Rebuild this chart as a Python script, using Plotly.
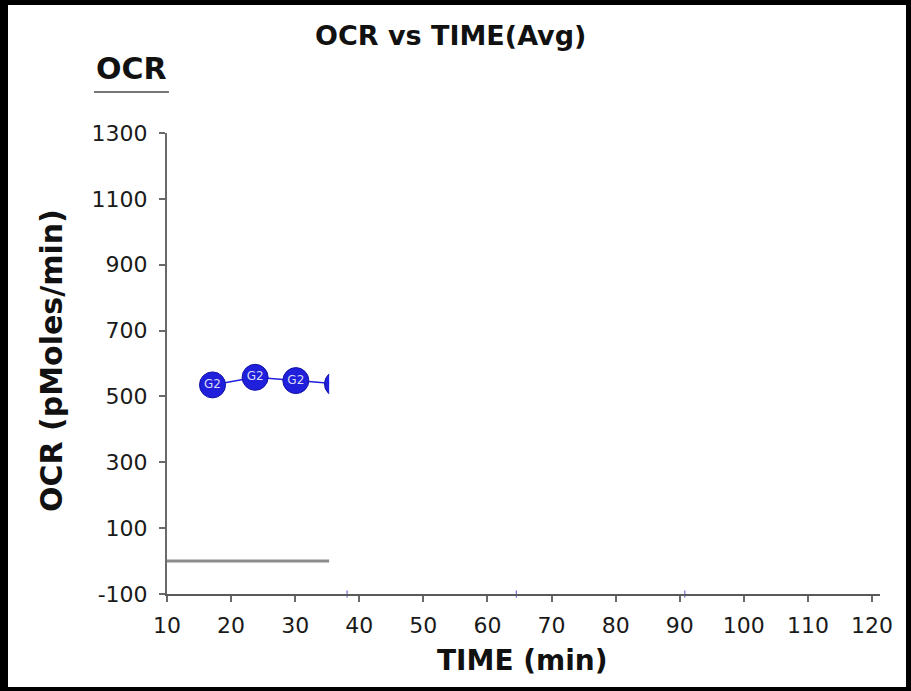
import plotly.graph_objects as go

# ---- data ----
time_min = [17.1, 23.75, 30.1, 36.6]
ocr_avg = [535, 558, 548, 538]
group_labels = ["G2", "G2", "G2", "G2"]
baseline_time = [10, 121]
baseline_ocr = [0, 0]
injection_time = [38.1, 64.5, 90.8]
injection_ocr = [-100, -100, -100]
reveal_time = 35.3          # data shown up to this time

x_ticks = [10, 20, 30, 40, 50, 60, 70, 80, 90, 100, 110, 120]
y_ticks = [-100, 100, 300, 500, 700, 900, 1100, 1300]
y_tick_text = ["-100", "100", "300", "500", "700", "900", "1100", "1300"]
x_range = [10, 121.25]
y_range = [-100, 1300]

W, H = 911, 691
L, R, T, B = 167, 31, 133, 97
pw, ph = W - L - R, H - T - B

def px(xp):
    return (xp - L) / pw

def py(yp):
    return (H - B - yp) / ph

FONT = "DejaVu Sans"
AX = "#6a6a6a"
BLUE = "#1f1fdc"

fig = go.Figure()

# clipped subplot (x2/y2) for revealed data
fig.add_trace(go.Scatter(
    x=baseline_time, y=baseline_ocr, mode="lines",
    line=dict(color="#8c8c8c", width=3),
    xaxis="x2", yaxis="y2", showlegend=False, hoverinfo="skip"))
fig.add_trace(go.Scatter(
    x=time_min, y=ocr_avg, mode="lines+markers+text",
    text=group_labels, textposition="middle center",
    textfont=dict(family=FONT, size=12, color="#dcdcf2"),
    line=dict(color=BLUE, width=1.5),
    marker=dict(size=26, color=BLUE, line=dict(color="#1212a8", width=1)),
    xaxis="x2", yaxis="y2", showlegend=False))

fig.add_trace(go.Scatter(
    x=injection_time, y=injection_ocr, mode="markers",
    marker=dict(symbol="line-ns-open", size=5, color="#5050d0", line=dict(width=1, color="#5050d0")),
    cliponaxis=False, showlegend=False, hoverinfo="skip"))

frac = (reveal_time - x_range[0]) / (x_range[1] - x_range[0])

fig.update_layout(
    width=W, height=H,
    margin=dict(l=L, r=R, t=T, b=B, pad=0),
    paper_bgcolor="black",
    plot_bgcolor="rgba(0,0,0,0)",
    showlegend=False,
    font=dict(family=FONT, color="#1a1a1a"),
    xaxis=dict(
        range=x_range, tickvals=x_ticks, domain=[0, 1],
        showgrid=False, zeroline=False,
        showline=True, linecolor="#5a5a5a", linewidth=2,
        ticks="outside", ticklen=6, tickwidth=2, tickcolor=AX,
        tickfont=dict(family=FONT, size=22, color="#1a1a1a"),
        ticklabelstandoff=5,
    ),
    yaxis=dict(
        range=y_range, tickvals=y_ticks, ticktext=y_tick_text, domain=[0, 1],
        showgrid=False, zeroline=False,
        showline=True, linecolor=AX, linewidth=2,
        ticks="outside", ticklen=6, tickwidth=2, tickcolor=AX,
        tickfont=dict(family=FONT, size=22, color="#1a1a1a"),
        ticklabelstandoff=7,
    ),
    xaxis2=dict(range=[x_range[0], reveal_time], domain=[0, frac], anchor="y2",
                visible=False, fixedrange=True),
    yaxis2=dict(range=y_range, domain=[0, 1], anchor="x2", visible=False, fixedrange=True),
    shapes=[
        dict(type="rect", xref="paper", yref="paper", layer="below",
             x0=px(8), x1=px(906), y0=py(687), y1=py(5),
             fillcolor="white", line=dict(width=0)),
        dict(type="line", xref="paper", yref="paper",
             x0=px(94), x1=px(169), y0=py(92), y1=py(92),
             line=dict(color="#777777", width=2)),
    ],
    annotations=[
        dict(text="<b>OCR vs TIME(Avg)</b>", xref="paper", yref="paper",
             x=px(450), y=py(35), xanchor="center", yanchor="middle",
             showarrow=False, font=dict(family=FONT, size=27, color="#111")),
        dict(text="<b>OCR</b>", xref="paper", yref="paper",
             x=px(131), y=py(68), xanchor="center", yanchor="middle",
             showarrow=False, font=dict(family=FONT, size=30, color="#111")),
        dict(text="<b>TIME (min)</b>", xref="paper", yref="paper",
             x=px(522), y=py(660), xanchor="center", yanchor="middle",
             showarrow=False, font=dict(family=FONT, size=28, color="#111")),
        dict(text="<b>OCR (pMoles/min)</b>", xref="paper", yref="paper",
             x=px(51), y=py(361), xanchor="center", yanchor="middle", textangle=-90,
             showarrow=False, font=dict(family=FONT, size=30, color="#111")),
    ],
)

fig.write_html("out.html")
